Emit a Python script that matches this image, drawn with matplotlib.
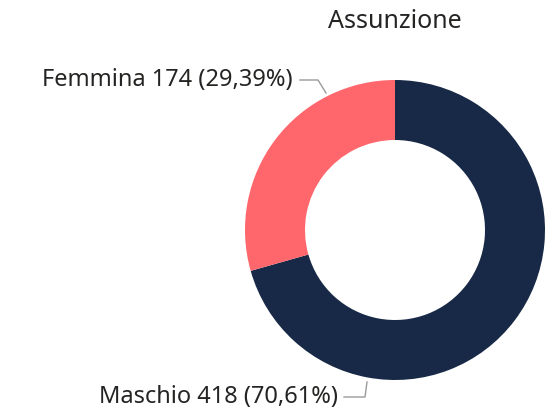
import numpy as np
import matplotlib.pyplot as plt

labels = ["Maschio", "Femmina"]
counts = [418, 174]
percent_labels = ["70,61%", "29,39%"]
colors = ["#172946", "#FF676C"]

plt.rcParams['font.family'] = ['Noto Sans', 'DejaVu Sans']

W, H = 547, 411
fig = plt.figure(figsize=(W / 100, H / 100), dpi=100)

# donut centred at (395, 230) px with radius 150 px
cx, cy, r = 395, 230, 150
ax = fig.add_axes([(cx - r) / W, (H - cy - r) / H, 2 * r / W, 2 * r / H])
ax.pie(counts, colors=colors, startangle=90, counterclock=False, radius=1,
       wedgeprops=dict(width=0.4, edgecolor='none'))
ax.set_xlim(-1, 1)
ax.set_ylim(-1, 1)
ax.set_aspect('equal')
ax.axis('off')

fig.text(cx / W, 1 - 22 / H, "Assunzione", ha='center', va='center',
         fontsize=18, color='#252423')


def px(x, y):
    return (x - cx) / r, (cy - y) / r


# label layout: (text right end, leader points) in pixels
layout = {
    "Femmina": ((293, 80), [(300, 80), (318, 80), (326, 93)]),
    "Maschio": ((338, 397), [(344, 397), (365, 397), (367, 382)]),
}

for name, n, p in zip(labels, counts, percent_labels):
    (tx, ty), pts = layout[name]
    x, y = px(tx, ty)
    ax.text(x, y, f"{name} {n} ({p})", ha='right', va='center',
            fontsize=17, color='#252423', clip_on=False)
    lx, ly = zip(*[px(a, b) for a, b in pts])
    ax.plot(lx, ly, color='#9a9a9a', lw=1, clip_on=False)

fig.savefig("out.png", dpi=100)
